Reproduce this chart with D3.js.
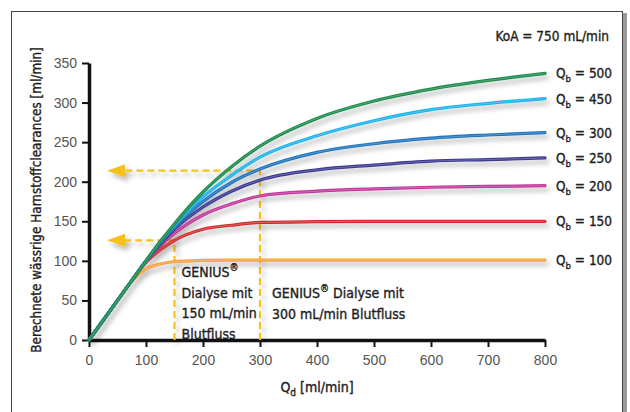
<!DOCTYPE html>
<html>
<head>
<meta charset="utf-8">
<script src="https://cdn.jsdelivr.net/npm/d3@7"></script>
<style>
  body { margin: 0; background: #fff; }
  svg { font-family: "DejaVu Sans", sans-serif; font-stretch: condensed; }
  .tick-label { fill: #555; font-size: 14px; }
  .dark { fill: #1e1e1e; stroke: #1e1e1e; stroke-width: 0.35px; }
</style>
</head>
<body>
<div id="chart"></div>
<script>
// dialysate flow (x) and clearance per blood flow (y)
const qd = [0, 25, 50, 75, 100, 125, 150, 200, 250, 300, 400, 500, 600, 700, 800];
const qb500 = [0, 25, 50, 75, 100, 124.5, 147, 187, 219, 245, 280, 302, 317, 328, 337];
const qb450 = [0, 25, 50, 75, 100, 124, 145, 181, 208, 231, 258, 277, 291, 299, 305];
const qb300 = [0, 25, 50, 75, 100, 123, 143, 175, 199, 216, 237, 248, 255, 259, 262];
const qb250 = [0, 25, 50, 75, 100, 121, 140, 168, 188, 202, 215, 221, 226, 228, 230];
const qb200 = [0, 25, 50, 75, 99, 119, 135, 158, 172, 182, 188, 191, 193, 194, 195];
const qb150 = [0, 25, 50, 75, 98, 114, 126, 140, 145, 148.5, 149.5, 150, 150, 150, 150];
const qb100 = [0, 25, 50, 74, 90, 96, 99, 100.5, 101, 101, 101, 101, 101, 101, 101];

const bloodFlows = [500, 450, 300, 250, 200, 150, 100];
const colors = ["#1b8a4c", "#1ab2ea", "#1f74bd", "#3b3990", "#c2359b", "#d12b2b", "#f5a13f"];
const xTicks = [0, 100, 200, 300, 400, 500, 600, 700, 800];
const yTicks = [0, 50, 100, 150, 200, 250, 300, 350];

// marked operating points: [qd, clearance]
const mark150 = [150, 126];
const mark300 = [300, 214];

const series = [qb500, qb450, qb300, qb250, qb200, qb150, qb100].map(function (vals, i) {
    return {
        qb: bloodFlows[i],
        color: colors[i],
        points: qd.map(function (q, j) { return [q, vals[j]]; })
    };
});

const W = 630, H = 412;

const svg = d3.select("#chart").append("svg")
    .attr("width", W)
    .attr("height", H);

const defs = svg.append("defs");
const shadow = defs.append("filter")
    .attr("id", "shadow")
    .attr("x", "-10%").attr("y", "-10%")
    .attr("width", "130%").attr("height", "130%");
shadow.append("feDropShadow")
    .attr("dx", 3).attr("dy", 4)
    .attr("stdDeviation", 2.5)
    .attr("flood-color", "#000")
    .attr("flood-opacity", 0.28);

// frame
svg.append("rect")
    .attr("x", 623).attr("y", 13)
    .attr("width", 4).attr("height", H)
    .attr("fill", "#9a9a9a");
svg.append("rect")
    .attr("x", 11.5).attr("y", 11.5)
    .attr("width", 611).attr("height", H + 20)
    .attr("fill", "none")
    .attr("stroke", "#444")
    .attr("stroke-width", 1);

const xScale = d3.scaleLinear().domain([0, 800]).range([89, 545]);
const yScale = d3.scaleLinear().domain([0, 350]).range([340, 63]);

// x-axis
const xAxis = svg.append("g")
    .attr("transform", "translate(0," + yScale(0) + ")")
    .call(d3.axisBottom(xScale).tickValues(xTicks).tickSize(7).tickPadding(8).tickSizeOuter(0));
xAxis.select(".domain").attr("stroke", "#111").attr("stroke-width", 3.5);
xAxis.selectAll(".tick line").attr("stroke", "#111").attr("stroke-width", 2);
xAxis.selectAll(".tick text").attr("class", "tick-label").attr("fill", null);

// y-axis
const yAxis = svg.append("g")
    .attr("transform", "translate(" + xScale(0) + ",0)")
    .call(d3.axisLeft(yScale).tickValues(yTicks).tickSize(7).tickPadding(5).tickSizeOuter(0));
yAxis.select(".domain").attr("stroke", "#111").attr("stroke-width", 3.5);
yAxis.selectAll(".tick line").attr("stroke", "#111").attr("stroke-width", 2);
yAxis.selectAll(".tick text").attr("class", "tick-label").attr("fill", null);

// dashed guide lines with arrows
const guides = svg.append("g").attr("filter", "url(#shadow)");
[mark150, mark300].forEach(function (m) {
    const px = xScale(m[0]), py = yScale(m[1]);
    guides.append("path")
        .attr("d", "M" + px + "," + yScale(0) + "V" + py + "H" + (xScale(0) + 34))
        .attr("fill", "none")
        .attr("stroke", "#f7c11b")
        .attr("stroke-width", 2.2)
        .attr("stroke-dasharray", "7,4");
    const tip = xScale(0) + 18;
    guides.append("path")
        .attr("d", "M" + tip + "," + py + "L" + (tip + 18) + "," + (py - 6.5) + "L" + (tip + 18) + "," + (py + 6.5) + "Z")
        .attr("fill", "#f7c11b");
});

// curves
const line = d3.line()
    .x(function (d) { return xScale(d[0]); })
    .y(function (d) { return yScale(d[1]); })
    .curve(d3.curveMonotoneX);

const curves = svg.append("g").attr("filter", "url(#shadow)");
series.slice().reverse().forEach(function (s) {
    curves.append("path")
        .attr("d", line(s.points))
        .attr("fill", "none")
        .attr("stroke", s.color)
        .attr("stroke-width", 3.2)
        .attr("stroke-linecap", "round");
    curves.append("path")
        .attr("d", line(s.points))
        .attr("fill", "none")
        .attr("stroke", "#fff")
        .attr("stroke-opacity", 0.3)
        .attr("stroke-width", 0.8);
});

// curve labels
series.forEach(function (s) {
    const last = s.points[s.points.length - 1];
    const t = svg.append("text")
        .attr("class", "dark")
        .attr("x", xScale(last[0]) + 11)
        .attr("y", yScale(last[1]) + 5)
        .attr("font-size", 13.5);
    t.append("tspan").text("Q");
    t.append("tspan").attr("font-size", 9.5).attr("dy", 4).text("b");
    t.append("tspan").attr("dy", -4).text(" = " + s.qb);
});

// KoA
svg.append("text")
    .attr("class", "dark")
    .attr("x", 609).attr("y", 41)
    .attr("text-anchor", "end")
    .attr("font-size", 13.5)
    .text("KoA = 750 mL/min");

// annotations
function noteBlock(x, y, lines) {
    const g = svg.append("text")
        .attr("class", "dark")
        .attr("font-size", 14);
    lines.forEach(function (l, i) {
        const row = g.append("tspan").attr("x", x).attr("y", y + i * 20.5);
        if (l.indexOf("GENIUS") === 0) {
            row.text("GENIUS");
            row.append("tspan").attr("font-size", 10).attr("dy", -6).text("®");
            row.append("tspan").attr("dy", 6).text(l.slice(6));
        } else {
            row.text(l);
        }
    });
}
noteBlock(xScale(mark150[0]) + 7, 277, ["GENIUS", "Dialyse mit", "150 mL/min", "Blutfluss"]);
noteBlock(xScale(mark300[0]) + 12, 298, ["GENIUS Dialyse mit", "300 mL/min Blutfluss"]);

// axis titles
const xt = svg.append("text")
    .attr("class", "dark")
    .attr("x", (xScale(0) + xScale(800)) / 2)
    .attr("y", 392)
    .attr("text-anchor", "middle")
    .attr("font-size", 14);
xt.append("tspan").text("Q");
xt.append("tspan").attr("font-size", 10).attr("dy", 4).text("d");
xt.append("tspan").attr("dy", -4).text(" [ml/min]");

svg.append("text")
    .attr("class", "dark")
    .attr("transform", "translate(41,200) rotate(-90)")
    .attr("text-anchor", "middle")
    .attr("font-size", 13.4)
    .text("Berechnete wässrige Harnstoffclearances [ml/min]");
</script>
</body>
</html>
